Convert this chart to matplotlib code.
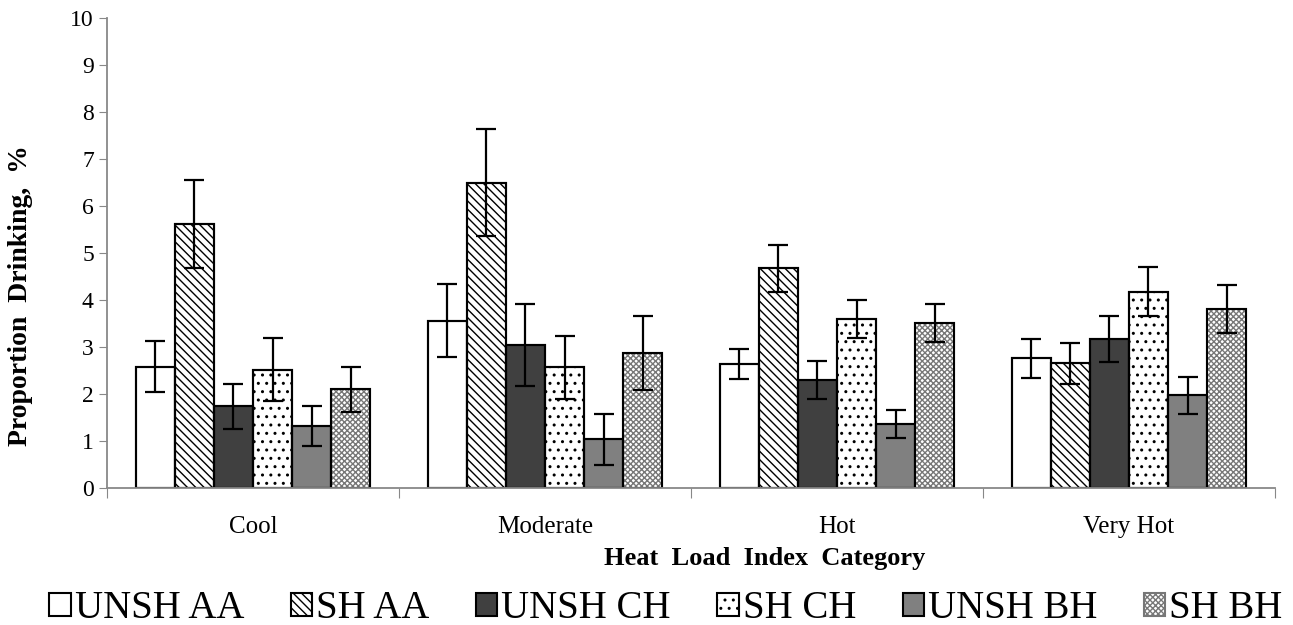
import matplotlib
matplotlib.use("Agg")
import matplotlib.pyplot as plt
import numpy as np

plt.rcParams['font.family'] = ['Liberation Serif', 'DejaVu Serif']
plt.rcParams['hatch.linewidth'] = 1.0

categories = ["Cool", "Moderate", "Hot", "Very Hot"]
series = ["UNSH AA", "SH AA", "UNSH CH", "SH CH", "UNSH BH", "SH BH"]

# mean values per series (Cool, Moderate, Hot, Very Hot)
unsh_aa = [2.58, 3.56, 2.64, 2.76]
sh_aa = [5.62, 6.50, 4.68, 2.65]
unsh_ch = [1.74, 3.04, 2.30, 3.18]
sh_ch = [2.52, 2.57, 3.60, 4.18]
unsh_bh = [1.32, 1.04, 1.36, 1.97]
sh_bh = [2.10, 2.88, 3.51, 3.80]

# error bar half-widths
err_unsh_aa = [0.54, 0.77, 0.32, 0.42]
err_sh_aa = [0.93, 1.14, 0.50, 0.44]
err_unsh_ch = [0.48, 0.88, 0.40, 0.49]
err_sh_ch = [0.67, 0.67, 0.40, 0.53]
err_unsh_bh = [0.43, 0.54, 0.30, 0.40]
err_sh_bh = [0.48, 0.79, 0.41, 0.51]

values = [unsh_aa, sh_aa, unsh_ch, sh_ch, unsh_bh, sh_bh]
errors = [err_unsh_aa, err_sh_aa, err_unsh_ch, err_sh_ch, err_unsh_bh, err_sh_bh]

# bar styles
faces = ["white", "white", "#404040", "white", "#808080", "white"]
hatches = [None, "\\\\\\\\", None, "..", None, "xxxxxx"]
hatch_cols = ["black", "black", "black", "black", "black", "#777777"]

fig = plt.figure(figsize=(12.93, 6.25), dpi=100)
ax = fig.add_axes([0.0828, 0.2192, 0.9032, 0.752])

x = np.arange(len(categories))
w = 0.134
handles = []
for i in range(len(series)):
    pos = x + (i - 2.5) * w
    b = ax.bar(pos, values[i], w, color=faces[i], edgecolor=hatch_cols[i], linewidth=1.5,
               hatch=hatches[i], label=series[i], zorder=2)
    # black outline on top (the hatch takes the edge colour)
    ax.bar(pos, values[i], w, color="none", edgecolor="black", linewidth=1.5, zorder=2.5)
    ax.errorbar(pos, values[i], yerr=errors[i], fmt="none", ecolor="black",
                elinewidth=1.6, capsize=7, capthick=1.6, zorder=3)
    handles.append(b)

ax.set_xlim(-0.5, 3.5)
ax.set_ylim(0, 10)
ax.set_yticks(range(0, 11))

# category ticks at boundaries, labels at centres
ax.set_xticks([-0.5, 0.5, 1.5, 2.5, 3.5])
ax.set_xticklabels([])
ax.set_xticks(x, minor=True)
ax.set_xticklabels(categories, minor=True, fontsize=18)
ax.tick_params(axis="x", which="minor", length=0, pad=20)
ax.tick_params(axis="x", which="major", length=7, color="#888888", direction="out")
ax.tick_params(axis="y", length=6, color="#888888", labelsize=17, direction="out")

for s in ["top", "right"]:
    ax.spines[s].set_visible(False)
for s in ["left", "bottom"]:
    ax.spines[s].set_color("#888888")
    ax.spines[s].set_linewidth(1.3)

ax.set_xlabel("Heat  Load  Index  Category", fontsize=19, fontweight="bold")
ax.set_ylabel("Proportion  Drinking,  %", fontsize=20, fontweight="bold")
ax.xaxis.set_label_coords(0.563, -0.125)
ax.yaxis.set_label_coords(-0.063, 0.41)

fig.legend(handles, series, loc="lower center", bbox_to_anchor=(0.515, -0.06), ncol=6,
           frameon=False, fontsize=28, handlelength=0.55, handleheight=0.55,
           handletextpad=0.1, columnspacing=1.2)

fig.savefig("out.png", dpi=100)
